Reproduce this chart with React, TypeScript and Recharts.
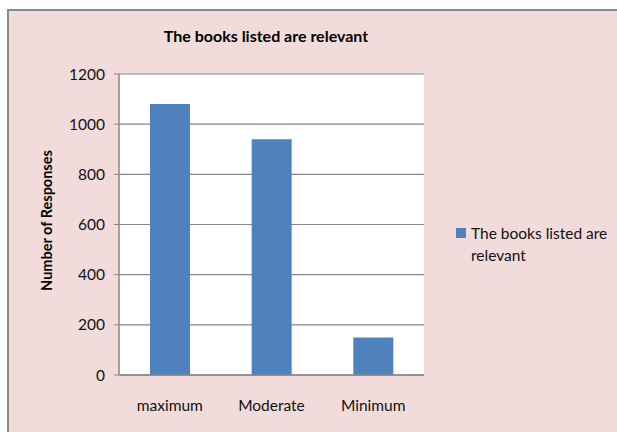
import { BarChart, Bar, XAxis, YAxis, CartesianGrid } from 'recharts';

const categories = ['maximum', 'Moderate', 'Minimum'];
const responses = [1080, 940, 150];
const yTicks = [0, 200, 400, 600, 800, 1000, 1200];
const seriesName = 'The books listed are relevant';

const data = categories.map((c, i) => ({ name: c, value: responses[i] }));

const FONT = 'Lato, "Open Sans", sans-serif';

function LegendBox() {
  return (
    <div style={{ display: 'flex', alignItems: 'flex-start', fontFamily: FONT, fontSize: 15.5, color: '#111', lineHeight: '22px', width: 165 }}>
      <span style={{ width: 10, height: 10, background: '#4f81bd', marginTop: 6, marginRight: 5, flexShrink: 0 }} />
      <span>The books listed are<br />relevant</span>
    </div>
  );
}

export default function App() {
  return (
    <div style={{ position: 'absolute', left: 0, top: 0, width: 617, height: 432, overflow: 'hidden', background: '#fff' }}>
      <div style={{ position: 'absolute', left: 7, top: 9, width: 620, height: 430, background: '#f2dcdb', borderLeft: '2px solid #8a8a8a', borderTop: '2px solid #8a8a8a' }} />
      <div style={{ position: 'absolute', left: 0, width: 532, top: 26, textAlign: 'center', fontFamily: FONT, fontWeight: 700, fontSize: 16, color: '#000' }}>
        The books listed are relevant
      </div>
      <div style={{ position: 'absolute', left: 0, top: 0 }}>
        <BarChart width={617} height={432} data={data} margin={{ top: 74, right: 193, bottom: 27, left: 60 }}>
          <CartesianGrid vertical={false} stroke="#868686" fill="#ffffff" strokeWidth={1.2} />
          <XAxis
            dataKey="name"
            height={30}
            tickLine={false}
            axisLine={{ stroke: '#868686', strokeWidth: 1.5 }}
            tick={{ fill: '#111', fontSize: 15.5, fontFamily: FONT }}
            tickMargin={19}
          />
          <YAxis
            width={59}
            domain={[0, 1200]}
            ticks={yTicks}
            interval={0}
            axisLine={{ stroke: '#868686', strokeWidth: 1.5 }}
            tickLine={{ stroke: '#868686' }}
            tickSize={5}
            tickMargin={9}
            tick={{ fill: '#111', fontSize: 15.5, fontFamily: FONT }}
            label={{ value: 'Number of Responses', angle: -90, position: 'insideLeft', dx: -18, dy: -4, style: { textAnchor: 'middle', fontFamily: FONT, fontWeight: 700, fontSize: 14.5, fill: '#000' } }}
          />
          <Bar dataKey="value" name={seriesName} fill="#4f81bd" barSize={40} isAnimationActive={false} />
        </BarChart>
      </div>
      <div style={{ position: 'absolute', left: 456, top: 222 }}>
        <LegendBox />
      </div>
    </div>
  );
}
